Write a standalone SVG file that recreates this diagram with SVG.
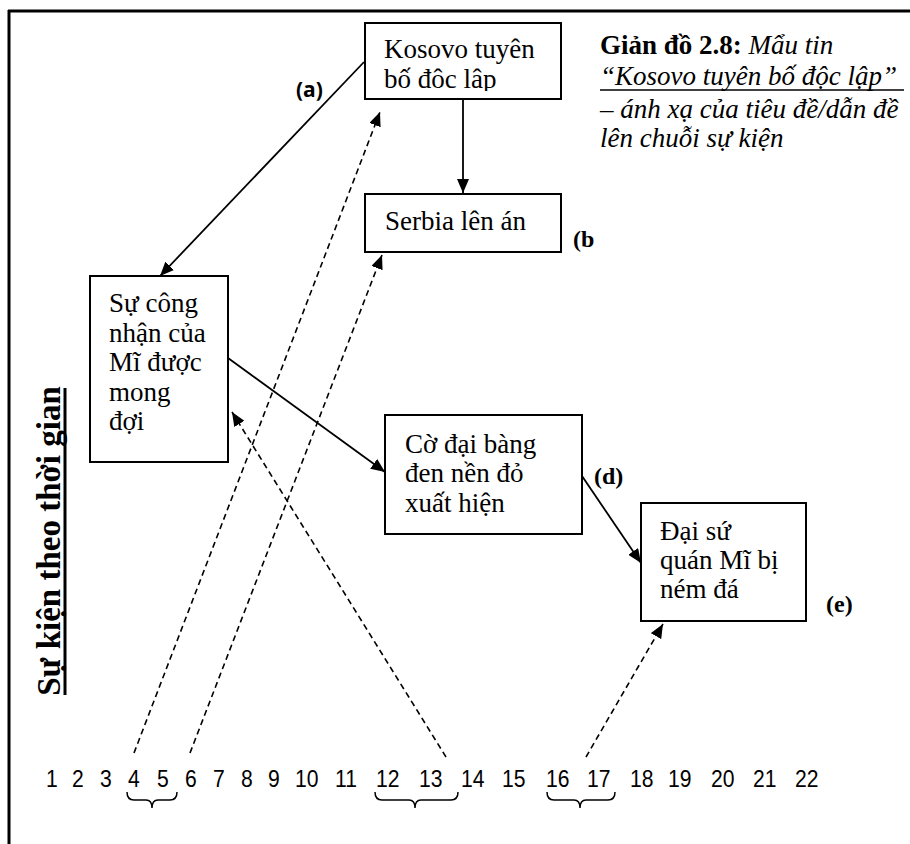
<svg xmlns="http://www.w3.org/2000/svg" width="910" height="844" viewBox="0 0 910 844">
  <style>
    .box { fill: #fff; stroke: #000; stroke-width: 2; }
    .txt { font-family: "Liberation Serif", "Times New Roman", serif; font-size: 27px; fill: #000; }
    .lbl { font-family: "Liberation Serif", "Times New Roman", serif; font-size: 24px; font-weight: bold; fill: #000; }
    .lbl-sans { font-family: "Open Sans", "Liberation Sans", sans-serif; font-size: 21px; font-weight: bold; fill: #000; }
    .num { font-family: "Liberation Sans", Arial, sans-serif; font-size: 24px; fill: #000; }
    .solid { fill: none; stroke: #000; stroke-width: 1.8; marker-end: url(#head); }
    .dash { fill: none; stroke: #000; stroke-width: 1.6; stroke-dasharray: 6 4; marker-end: url(#head); }
    .brace { fill: none; stroke: #000; stroke-width: 1.5; }
  </style>
  <defs>
    <marker id="head" viewBox="0 0 14 12" refX="14" refY="6" markerWidth="14" markerHeight="12" markerUnits="userSpaceOnUse" orient="auto">
      <path d="M0,0 L14,6 L0,12 z" fill="#000"/>
    </marker>
    <clipPath id="kosovo-clip">
      <rect x="366" y="24" width="194" height="67"/>
    </clipPath>
  </defs>

  <rect width="910" height="844" fill="#fff"/>

  <!-- frame -->
  <g id="frame" stroke="#000" stroke-width="3" fill="none">
    <line x1="8" y1="11" x2="910" y2="11"/>
    <line x1="9" y1="10" x2="9" y2="844"/>
  </g>

  <!-- caption -->
  <g id="caption" class="txt">
    <text x="600" y="54"><tspan font-weight="bold">Giản đồ 2.8:</tspan><tspan font-style="italic"> Mẩu tin</tspan></text>
    <text x="600" y="85" font-style="italic">“Kosovo tuyên bố độc lập”</text>
    <line x1="600" y1="90" x2="904" y2="90" stroke="#000" stroke-width="1.5"/>
    <text x="600" y="118" font-style="italic">– ánh xạ của tiêu đề/dẫn đề</text>
    <text x="600" y="147" font-style="italic">lên chuỗi sự kiện</text>
  </g>

  <!-- vertical axis title -->
  <g id="axis-title">
    <text transform="translate(60,541) rotate(-90)" text-anchor="middle" font-family="Liberation Serif, 'Times New Roman', serif" font-size="33" font-weight="bold">Sự kiện theo thời gian</text>
    <line x1="65" y1="388" x2="65" y2="695" stroke="#000" stroke-width="3"/>
  </g>

  <!-- event nodes -->
  <g id="node-kosovo">
    <rect class="box" x="365" y="23" width="196" height="76"/>
    <g clip-path="url(#kosovo-clip)" class="txt">
      <text x="384" y="58">Kosovo tuyên</text>
      <text x="384" y="88">bố đôc lâp</text>
    </g>
  </g>

  <g id="node-serbia">
    <rect class="box" x="365" y="194" width="196" height="58"/>
    <text class="txt" x="385" y="230">Serbia lên án</text>
  </g>

  <g id="node-recognition">
    <rect class="box" x="90" y="276" width="138" height="186"/>
    <text class="txt" x="109" y="312">Sự công</text>
    <text class="txt" x="109" y="341.5">nhận của</text>
    <text class="txt" x="109" y="371">Mĩ được</text>
    <text class="txt" x="109" y="400.5">mong</text>
    <text class="txt" x="109" y="430">đợi</text>
  </g>

  <g id="node-flag">
    <rect class="box" x="385" y="415" width="197" height="119"/>
    <text class="txt" x="405" y="453">Cờ đại bàng</text>
    <text class="txt" x="405" y="482">đen nền đỏ</text>
    <text class="txt" x="405" y="512">xuất hiện</text>
  </g>

  <g id="node-embassy">
    <rect class="box" x="641" y="503" width="165" height="118"/>
    <text class="txt" x="660" y="540">Đại sứ</text>
    <text class="txt" x="660" y="569">quán Mĩ bị</text>
    <text class="txt" x="660" y="598">ném đá</text>
  </g>

  <!-- labels -->
  <g id="labels">
    <text class="lbl-sans" x="296" y="97">(a)</text>
    <text class="lbl" x="573" y="247">(b</text>
    <text class="lbl" x="594" y="484">(d)</text>
    <text class="lbl" x="826" y="612">(e)</text>
  </g>

  <!-- connectors -->
  <g id="connectors">
    <line class="solid" x1="364" y1="62" x2="160" y2="276"/>
    <line class="solid" x1="463" y1="99" x2="463" y2="193"/>
    <line class="solid" x1="228" y1="358" x2="385" y2="472"/>
    <line class="solid" x1="582" y1="476" x2="641" y2="563"/>
    <line class="dash" x1="134" y1="753" x2="380" y2="112"/>
    <line class="dash" x1="190" y1="753" x2="382" y2="255"/>
    <line class="dash" x1="446" y1="757" x2="232" y2="412"/>
    <line class="dash" x1="586" y1="757" x2="663" y2="624"/>
  </g>

  <!-- timeline (narrowed digits) -->
  <g id="timeline" class="num" transform="scale(0.88 1)">
    <text x="52.3" y="787">1</text>
    <text x="81.8" y="787">2</text>
    <text x="113.6" y="787">3</text>
    <text x="145.5" y="787">4</text>
    <text x="178.4" y="787">5</text>
    <text x="210.2" y="787">6</text>
    <text x="242" y="787">7</text>
    <text x="273.9" y="787">8</text>
    <text x="304.5" y="787">9</text>
    <text x="335.2" y="787">10</text>
    <text x="380.7" y="787">11</text>
    <text x="427.3" y="787">12</text>
    <text x="476.1" y="787">13</text>
    <text x="523.9" y="787">14</text>
    <text x="570.5" y="787">15</text>
    <text x="620.5" y="787">16</text>
    <text x="667" y="787">17</text>
    <text x="715.9" y="787">18</text>
    <text x="759.1" y="787">19</text>
    <text x="808" y="787">20</text>
    <text x="855.7" y="787">21</text>
    <text x="903.4" y="787">22</text>
  </g>

  <g id="braces">
    <path class="brace" d="M127,792 Q127,800 134,800 H146 Q152,800 152,808 Q152,800 158,800 H170 Q177,800 177,792"/>
    <path class="brace" d="M375,792 Q375,800 382,800 H409 Q415,800 415,808 Q415,800 421,800 H451 Q458,800 458,792"/>
    <path class="brace" d="M547,792 Q547,800 554,800 H574 Q580,800 580,808 Q580,800 586,800 H608 Q615,800 615,792"/>
  </g>
</svg>
